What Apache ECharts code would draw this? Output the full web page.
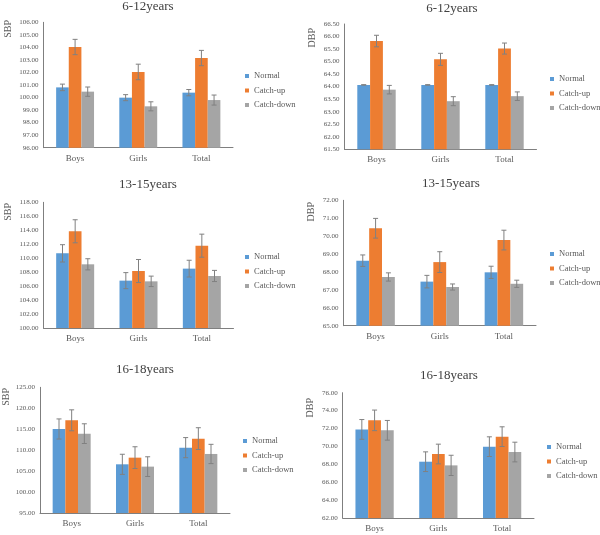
<!DOCTYPE html>
<html lang="en">
<head>
    <meta charset="UTF-8">
    <title>SBP / DBP by age group</title>
    <script src="https://cdn.jsdelivr.net/npm/echarts@6/dist/echarts.min.js"></script>
    <style>
        html, body { margin: 0; padding: 0; background: #fff; }
    </style>
</head>
<body>
<div id="box1" style="width: 600px;height: 535px"></div>
<script>
    var categories = ['Boys', 'Girls', 'Total'];
    var groupNames = ['Normal', 'Catch-up', 'Catch-down'];
    var colors = ['#5B9BD5', '#ED7D31', '#A5A5A5'];

    // rows: Normal, Catch-up, Catch-down ; cols: Boys, Girls, Total
    var sbp612Mean = [[100.81, 99.99, 100.39], [104.03, 102.04, 103.15], [100.47, 99.30, 99.80]];
    var sbp612Err = [[0.26, 0.24, 0.25], [0.61, 0.62, 0.61], [0.37, 0.36, 0.40]];
    var dbp612Mean = [[64.07, 64.07, 64.07], [65.82, 65.09, 65.52], [63.88, 63.42, 63.62]];
    var dbp612Err = [[0.01, 0.01, 0.01], [0.23, 0.24, 0.22], [0.17, 0.18, 0.17]];
    var sbp1315Mean = [[110.69, 106.78, 108.50], [113.85, 108.16, 111.79], [109.12, 106.68, 107.45]];
    var sbp1315Err = [[1.24, 1.15, 1.20], [1.65, 1.65, 1.65], [0.80, 0.75, 0.80]];
    var dbp1315Mean = [[68.63, 67.46, 67.98], [70.44, 68.55, 69.78], [67.72, 67.16, 67.34]];
    var dbp1315Err = [[0.32, 0.35, 0.34], [0.55, 0.58, 0.55], [0.23, 0.17, 0.20]];
    var sbp1618Mean = [[115.05, 106.62, 110.60], [117.12, 108.21, 112.75], [113.94, 106.07, 109.09]];
    var sbp1618Err = [[2.40, 2.40, 2.40], [2.50, 2.60, 2.60], [2.35, 2.35, 2.30]];
    var dbp1618Mean = [[71.90, 68.29, 69.97], [72.91, 69.15, 71.09], [71.80, 67.88, 69.37]];
    var dbp1618Err = [[1.10, 1.10, 1.10], [1.15, 1.10, 1.10], [1.10, 1.13, 1.10]];

    // [min, max, interval]
    var sbp612Axis = [96, 106, 1];
    var dbp612Axis = [61.5, 66.5, 0.5];
    var sbp1315Axis = [100, 118, 2];
    var dbp1315Axis = [65, 72, 1];
    var sbp1618Axis = [95, 125, 5];
    var dbp1618Axis = [62, 76, 2];

    var panels = [
        {title: '6-12years', name: 'SBP', mean: sbp612Mean, err: sbp612Err, axis: sbp612Axis,
            grid: [43.5, 22.3, 189.5, 125.4], t: [148, 0], n: [8, 20], lg: [245, 71]},
        {title: '6-12years', name: 'DBP', mean: dbp612Mean, err: dbp612Err, axis: dbp612Axis,
            grid: [344.5, 24, 192, 125.3], t: [452, 2], n: [312, 28], lg: [550, 74]},
        {title: '13-15years', name: 'SBP', mean: sbp1315Mean, err: sbp1315Err, axis: sbp1315Axis,
            grid: [43.5, 202.3, 190, 125.7], t: [148, 178], n: [8, 203], lg: [245, 252]},
        {title: '13-15years', name: 'DBP', mean: dbp1315Mean, err: dbp1315Err, axis: dbp1315Axis,
            grid: [343.5, 200.3, 192.5, 125.4], t: [451, 177], n: [311, 202], lg: [550, 249]},
        {title: '16-18years', name: 'SBP', mean: sbp1618Mean, err: sbp1618Err, axis: sbp1618Axis,
            grid: [40, 387.3, 190, 125.7], t: [145, 363], n: [6, 388], lg: [243, 436]},
        {title: '16-18years', name: 'DBP', mean: dbp1618Mean, err: dbp1618Err, axis: dbp1618Axis,
            grid: [342.7, 392.7, 191.3, 125.3], t: [449, 369], n: [310, 398], lg: [547, 442]}
    ];

    var font = "'Liberation Serif', 'Times New Roman', serif";
    var mychar = echarts.init(document.getElementById('box1'));

    function errorBars(idx, means, errs) {
        var data = [];
        means.forEach(function (row, s) {
            row.forEach(function (v, c) {
                data.push([c, v, errs[s][c], s]);
            });
        });
        return {
            type: 'custom',
            xAxisIndex: idx,
            yAxisIndex: idx,
            silent: true,
            z: 10,
            data: data,
            encode: {x: 0, y: 1},
            renderItem: function (params, api) {
                var c = api.value(0), v = api.value(1), e = api.value(2), s = api.value(3);
                var band = api.size([1, 0])[0];
                var bw = band * 0.6 / 3;
                var x = api.coord([c, v])[0] + (s - 1) * bw;
                var hi = api.coord([c, v + e])[1];
                var lo = api.coord([c, v - e])[1];
                var cap = 2.5;
                var st = {stroke: '#808080', lineWidth: 1};
                return {
                    type: 'group',
                    children: [
                        {type: 'line', shape: {x1: x, y1: hi, x2: x, y2: lo}, style: st},
                        {type: 'line', shape: {x1: x - cap, y1: hi, x2: x + cap, y2: hi}, style: st},
                        {type: 'line', shape: {x1: x - cap, y1: lo, x2: x + cap, y2: lo}, style: st}
                    ]
                };
            }
        };
    }

    var option = {
        backgroundColor: '#fff',
        animation: false,
        textStyle: {fontFamily: font},
        title: [], grid: [], xAxis: [], yAxis: [], legend: [], series: [], graphic: []
    };

    panels.forEach(function (p, i) {
        option.title.push({
            text: p.title, left: p.t[0], top: p.t[1], textAlign: 'center', padding: 0,
            textStyle: {fontFamily: font, fontSize: 13, fontWeight: 'normal', color: '#404040'}
        });
        option.grid.push({left: p.grid[0], top: p.grid[1], width: p.grid[2], height: p.grid[3]});
        option.xAxis.push({
            type: 'category', gridIndex: i, data: categories,
            axisLine: {lineStyle: {color: '#7f7f7f', width: 1}},
            axisTick: {show: false},
            axisLabel: {fontFamily: font, fontSize: 9, color: '#595959', margin: 6}
        });
        option.yAxis.push({
            type: 'value', gridIndex: i,
            min: p.axis[0], max: p.axis[1], interval: p.axis[2],
            axisLine: {show: true, lineStyle: {color: '#7f7f7f', width: 1}},
            axisTick: {show: false},
            splitLine: {show: false},
            axisLabel: {
                fontFamily: font, fontSize: 7, color: '#595959', margin: 5,
                formatter: function (v) { return v.toFixed(2); }
            }
        });
        option.legend.push({
            data: groupNames, orient: 'vertical', left: p.lg[0], top: p.lg[1], padding: 0,
            icon: 'rect', itemWidth: 4, itemHeight: 4, itemGap: 4.5,
            textStyle: {fontFamily: font, fontSize: 8.5, lineHeight: 10, color: '#595959'}
        });
        groupNames.forEach(function (g, s) {
            option.series.push({
                name: g, type: 'bar', xAxisIndex: i, yAxisIndex: i,
                data: p.mean[s],
                itemStyle: {color: colors[s]},
                barGap: '0%', barCategoryGap: '40%'
            });
        });
        option.series.push(errorBars(i, p.mean, p.err));
        option.graphic.push({
            type: 'text', x: p.n[0], y: p.n[1], rotation: Math.PI / 2,
            style: {
                text: p.name, fontFamily: font, fontSize: 10, fill: '#595959',
                align: 'right', verticalAlign: 'middle'
            }
        });
    });

    mychar.setOption(option);
</script>
</body>
</html>
